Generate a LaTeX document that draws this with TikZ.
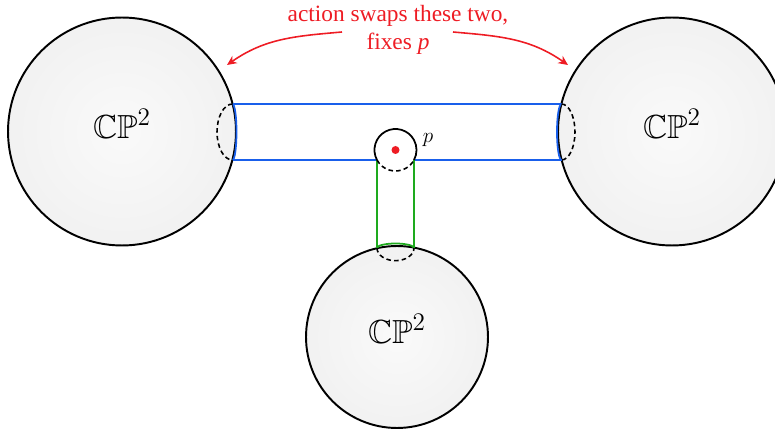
\documentclass[tikz,border=0pt]{standalone}
\usepackage{amssymb}
\usepackage[no-math]{fontspec}
\setmainfont{Liberation Serif}
\usetikzlibrary{arrows.meta}

\definecolor{tubeblue}{RGB}{25,95,235}
\definecolor{tubegreen}{RGB}{30,170,30}
\definecolor{notered}{RGB}{238,28,36}
\pgfdeclareradialshading{ballshade}{\pgfpoint{0bp}{0bp}}{color(0bp)=(black!2); color(30bp)=(black!6); color(50bp)=(black!12)}

\begin{document}
\begin{tikzpicture}[x=0.02cm,y=0.02cm,
  ball/.style={circle, draw=black, line width=1.1pt, inner sep=0pt, shading=ballshade},
  cplabel/.style={font=\fontsize{19}{22}\selectfont},
  hidden/.style={black, line width=0.9pt, dash pattern=on 2.6pt off 1.8pt},
  bluetube/.style={tubeblue, line width=1pt},
  greentube/.style={tubegreen, line width=1pt},
  swaparrow/.style={notered, line width=0.9pt, -{Stealth[length=5.5pt,width=5pt]}},
]
\useasboundingbox (0,0) rectangle (775,433);

% the three summands
\node[ball, minimum size=4.56cm] (L) at (122,301.5) {};
\node[ball, minimum size=4.56cm] (R) at (672,301.5) {};
\node[ball, minimum size=3.64cm] (B) at (397,96) {};

\node[cplabel] (Lt) at ([yshift=0.16cm]L.center) {$\mathbb{CP}^2$};
\node[cplabel] (Rt) at ([yshift=0.16cm]R.center) {$\mathbb{CP}^2$};
\node[cplabel] (Bt) at ([yshift=0.16cm]B.center) {$\mathbb{CP}^2$};

% tube ends
\coordinate (LT) at (232.5,329);
\coordinate (LB) at (232.5,273);
\coordinate (RT) at (561.5,329);
\coordinate (RB) at (561.5,273);
\coordinate (SL) at (377,273);
\coordinate (SR) at (414,273);
\coordinate (BL) at (377,185);
\coordinate (BR) at (414,185);

% horizontal tube
\draw[bluetube] (LB) -- (SL);
\draw[bluetube] (SR) -- (RB);
\draw[bluetube] (LT) -- (RT);
\draw[bluetube] (LT) arc[start angle=90, end angle=-90, x radius=0.08cm, y radius=0.56cm];
\draw[hidden] (LT) arc[start angle=90, end angle=270, x radius=0.31cm, y radius=0.56cm];
\draw[bluetube] (RT) arc[start angle=90, end angle=270, x radius=0.09cm, y radius=0.56cm];
\draw[hidden] (RT) arc[start angle=90, end angle=-90, x radius=0.27cm, y radius=0.56cm];

% vertical tube
\draw[greentube] (SL) -- (BL);
\draw[greentube] (SR) -- (BR);
\draw[greentube] (BL) arc[start angle=180, end angle=0, x radius=0.37cm, y radius=0.09cm];
\draw[hidden] (BL) arc[start angle=180, end angle=360, x radius=0.37cm, y radius=0.254cm];

% small sphere around the fixed point
\draw[black, line width=1pt] (SL) arc[start angle=208.4, end angle=-28.4, radius=0.4206cm];
\draw[hidden] (SL) arc[start angle=208.4, end angle=331.6, radius=0.4206cm];
\node[circle, fill=notered, inner sep=0pt, minimum size=0.16cm] (pdot) at (395.5,283) {};
\node[font=\fontsize{13}{15}\selectfont] (plabel) at (428,293) {$p$};

% the involution
\node[notered, align=center, font=\fontsize{13.3}{15.7}\selectfont] (note) at (398,403)
  {action swaps these two,\\ fixes \textit{p}};
\coordinate (aL0) at (342,401);
\coordinate (aL1) at (227,368);
\coordinate (aR0) at (453,401);
\coordinate (aR1) at (568,368);
\draw[swaparrow] (aL0) to[out=185, in=35] (aL1);
\draw[swaparrow] (aR0) to[out=-5, in=145] (aR1);
\end{tikzpicture}
\end{document}
